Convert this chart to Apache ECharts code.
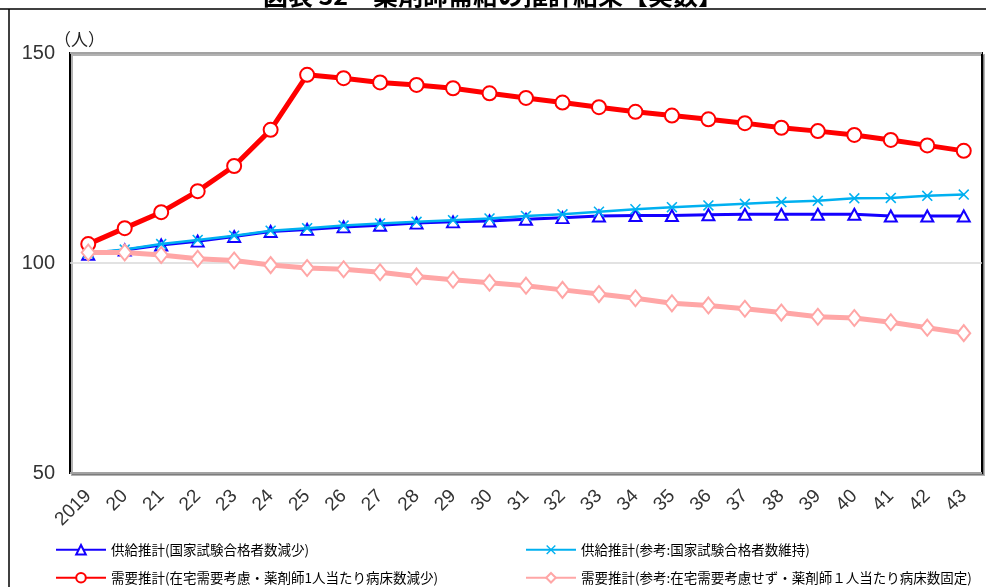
<!DOCTYPE html>
<html><head><meta charset="utf-8">
<script src="https://cdn.jsdelivr.net/npm/echarts@6/dist/echarts.min.js"></script>
<style>html,body{margin:0;padding:0;background:#fff}#c{width:986px;height:587px}</style>
</head><body><div id="c"></div>
<script>
const categories = ['2019','20','21','22','23','24','25','26','27','28','29','30','31','32','33','34','35','36','37','38','39','40','41','42','43'];
const supplyDecrease = [102.1,103.1,104.3,105.2,106.3,107.5,108.0,108.6,109.0,109.5,109.8,110.0,110.4,110.8,111.2,111.3,111.3,111.5,111.6,111.6,111.6,111.6,111.2,111.2,111.2];
const supplyMaintain = [102.4,103.2,104.5,105.5,106.5,107.7,108.3,108.9,109.4,109.8,110.2,110.6,111.2,111.6,112.2,112.8,113.3,113.7,114.1,114.5,114.8,115.4,115.5,116.0,116.3];
const demandMain = [104.5,108.3,112.1,117.1,123.1,131.7,144.8,144.0,143.0,142.4,141.6,140.4,139.3,138.2,137.1,136.0,135.1,134.2,133.3,132.2,131.4,130.5,129.3,128.0,126.7];
const demandRef = [102.5,102.5,101.9,101.0,100.6,99.5,98.8,98.5,97.8,96.8,96.0,95.3,94.6,93.6,92.6,91.6,90.4,89.9,89.1,88.2,87.2,86.9,85.9,84.6,83.3];
const yTicks = {min:50, max:150, interval:50};
const names = [
  '供給推計(国家試験合格者数減少)',
  '供給推計(参考:国家試験合格者数維持)',
  '需要推計(在宅需要考慮・薬剤師1人当たり病床数減少)',
  '需要推計(参考:在宅需要考慮せず・薬剤師１人当たり病床数固定)'
];
const titleText = '図表 32　薬剤師需給の推計結果【実数】';
const unitText = '（人）';

const chart = echarts.init(document.getElementById('c'), null, {renderer:'canvas'});
const xPath = 'path://M0,1L1,0L5,4L9,0L10,1L6,5L10,9L9,10L5,6L1,10L0,9L4,5Z';
const font = '"Liberation Sans", "Noto Sans CJK JP", sans-serif';
const legendText = {fontSize:13.5, color:'#000', fontFamily:'"Noto Sans CJK JP", sans-serif'};
function lg(name, left, top){
  return {data:[name], left:left, top:top, itemWidth:50, itemHeight:12, itemGap:5, textStyle:legendText, selectedMode:false, padding:0};
}
chart.setOption({
  animation:false,
  backgroundColor:'#fff',
  graphic:[
    {type:'text', left:'center', top:-17, style:{text:titleText, font:'bold 25px "Noto Sans CJK JP", sans-serif', fill:'#000'}},
    {type:'text', left:54, top:31, style:{text:unitText, font:'17px "Noto Sans CJK JP", sans-serif', fill:'#222'}},
    {type:'line', shape:{x1:0,y1:9,x2:986,y2:9}, style:{stroke:'#000', lineWidth:1.5}},
    {type:'line', shape:{x1:9,y1:9,x2:9,y2:587}, style:{stroke:'#000', lineWidth:1.5}}
  ],
  grid:{left:70, right:4, top:53, bottom:114, show:true, borderColor:'#000', borderWidth:2, backgroundColor:'#fff',
        shadowColor:'rgba(0,0,0,0.3)', shadowOffsetX:2, shadowOffsetY:2, shadowBlur:0},
  legend:[
    lg(names[0], 55, 543),
    lg(names[1], 525, 543),
    lg(names[2], 55, 571),
    lg(names[3], 525, 571)
  ],
  xAxis:{type:'category', data:categories, boundaryGap:true,
    axisLine:{show:false}, axisTick:{show:false},
    axisLabel:{rotate:45, fontSize:19, color:'#333', fontFamily:font, margin:20}},
  yAxis:{type:'value', min:yTicks.min, max:yTicks.max, interval:yTicks.interval,
    axisLine:{show:false}, axisTick:{show:false},
    axisLabel:{fontSize:20, color:'#333', fontFamily:font, margin:15},
    splitLine:{lineStyle:{color:'#d9d9d9', width:1.5}}},
  series:[
    {name:names[0], type:'line', data:supplyDecrease, symbol:'triangle', symbolSize:[12,11], showAllSymbol:true,
     lineStyle:{color:'#1400ff', width:3}, itemStyle:{color:'#fff', borderColor:'#1400ff', borderWidth:2}, z:2},
    {name:names[1], type:'line', data:supplyMaintain, symbol:xPath, symbolSize:11, showAllSymbol:true,
     lineStyle:{color:'#00b0f0', width:2.5}, itemStyle:{color:'#00b0f0', borderWidth:0}, z:3},
    {name:names[2], type:'line', data:demandMain, symbol:'circle', symbolSize:14, showAllSymbol:true,
     lineStyle:{color:'#ff0000', width:5}, itemStyle:{color:'#fff', borderColor:'#ff0000', borderWidth:2}, z:4},
    {name:names[3], type:'line', data:demandRef, symbol:'diamond', symbolSize:[13,16], showAllSymbol:true,
     lineStyle:{color:'#ffa6a6', width:5}, itemStyle:{color:'#fff', borderColor:'#ffa6a6', borderWidth:2}, z:5}
  ]
});
</script></body></html>
